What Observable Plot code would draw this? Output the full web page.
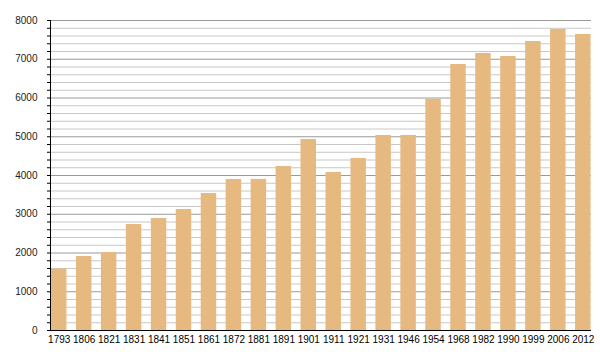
<!DOCTYPE html>
<html>
<head>
<meta charset="utf-8">
<script src="https://cdn.jsdelivr.net/npm/d3@7"></script>
<script src="https://cdn.jsdelivr.net/npm/@observablehq/plot@0.6"></script>
<style>
  html, body { margin: 0; padding: 0; background: #fff; }
  #chart svg { display: block; }
</style>
</head>
<body>
<div id="chart"></div>
<script>
const years = ["1793","1806","1821","1831","1841","1851","1861","1872","1881","1891","1901","1911","1921","1931","1946","1954","1968","1982","1990","1999","2006","2012"];
const population = [1590, 1910, 2013, 2735, 2890, 3123, 3535, 3897, 3900, 4232, 4929, 4077, 4439, 5032, 5032, 5969, 6865, 7148, 7071, 7458, 7768, 7639];
const minorTicks = d3.range(0, 8001, 200);
const majorTicks = d3.range(0, 8001, 1000);

const data = years.map((y, i) => ({year: y, value: population[i]}));

const chart = Plot.plot({
  width: 600,
  height: 360,
  marginTop: 20,
  marginBottom: 30,
  marginLeft: 50,
  marginRight: 9,
  style: {fontFamily: "'Liberation Sans', Arial, sans-serif", fontSize: "10px", color: "#000", background: "#fff"},
  x: {domain: years, padding: 0.38, range: [41.5, 600], round: false, label: null},
  y: {domain: [0, 8000], label: null},
  marks: [
    Plot.ruleY(minorTicks.filter(d => d % 1000 !== 0), {stroke: "#c8c8c8", strokeWidth: 1}),
    Plot.ruleY(majorTicks.filter(d => d > 0), {stroke: "#9a9a9a", strokeWidth: 1}),
    Plot.barY(data, {x: "year", y: "value", fill: "#e6b981"}),
    Plot.axisY({ticks: minorTicks, tickSize: 3, tickPadding: 10, tickFormat: d => d % 1000 === 0 ? String(d) : "", stroke: "#000", strokeOpacity: 1, fill: "#222"}),
    Plot.axisX({tickSize: 0, tickPadding: 5, fill: "#000"}),
    Plot.frame({anchor: "left", stroke: "#000"}),
    Plot.ruleY([0], {stroke: "#000"})
  ]
});
document.getElementById("chart").appendChild(chart);
</script>
</body>
</html>
